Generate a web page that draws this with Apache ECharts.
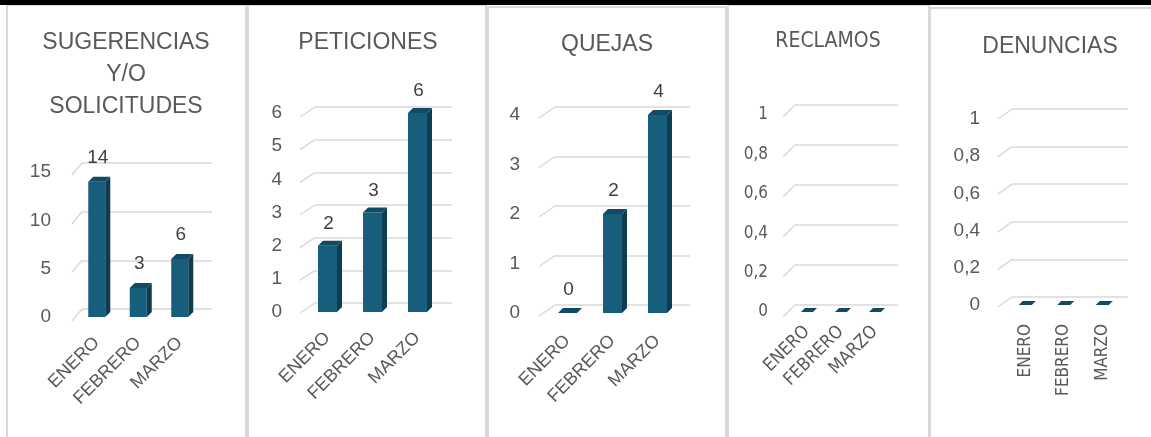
<!DOCTYPE html>
<html><head><meta charset="utf-8">
<script src="https://cdn.jsdelivr.net/npm/echarts@6/dist/echarts.min.js"></script>
<style>html,body{margin:0;padding:0;background:#fff}#c{width:1151px;height:437px}</style>
</head><body><div id="c"></div>
<script>
// ---- data ----
const months = ['ENERO', 'FEBRERO', 'MARZO'];
const sugerencias = [14, 3, 6];
const peticiones = [2, 3, 6];
const quejas = [0, 2, 4];
const reclamos = [0, 0, 0];
const denuncias = [0, 0, 0];
const titles = ['SUGERENCIAS\nY/O\nSOLICITUDES', 'PETICIONES', 'QUEJAS', 'RECLAMOS', 'DENUNCIAS'];
const ticksSug = [0, 5, 10, 15];
const ticksPet = [0, 1, 2, 3, 4, 5, 6];
const ticksQue = [0, 1, 2, 3, 4];
const ticksRec = [0, 0.2, 0.4, 0.6, 0.8, 1];
const ticksDen = [0, 0.2, 0.4, 0.6, 0.8, 1];

// ---- layout / style ----
const FRONT = '#175E7C', SIDE = '#0E3D51', TOPC = '#114A62';
const GRID = '#D9D9D9', TXT = '#595959';
const SANS = "'Liberation Sans', Arial, sans-serif";
const NARROW = "'Liberation Sans Narrow', 'DejaVu Sans Condensed', sans-serif";

const panels = [
  { data: sugerencias, ticks: ticksSug, title: titles[0], tx: 126, ty: 27, tFont: SANS, tSize: 23,
    front: { left: 76, top: 172, width: 124.5, height: 145 }, back: { left: 82, top: 163, width: 130, height: 146 },
    stub: [10, 12], barW: 17, depth: 5, labelOff: 24, showVal: true,
    yFont: SANS, ySize: 19, yMargin: 25, xFont: SANS, xSize: 18, xRot: 45, xMargin: 23 },
  { data: peticiones, ticks: ticksPet, title: titles[1], tx: 368, ty: 27, tFont: SANS, tSize: 23,
    front: { left: 305, top: 113, width: 135, height: 199 }, back: { left: 315, top: 107, width: 137, height: 196 },
    stub: [15, 10], barW: 19, depth: 5, labelOff: 22, showVal: true,
    yFont: SANS, ySize: 19, yMargin: 23, xFont: SANS, xSize: 18, xRot: 45, xMargin: 23 },
  { data: quejas, ticks: ticksQue, title: titles[2], tx: 607, ty: 29, tFont: SANS, tSize: 23,
    front: { left: 545, top: 115, width: 135, height: 198 }, back: { left: 555, top: 107, width: 135, height: 198 },
    stub: [16, 11], barW: 19, depth: 5, labelOff: 23, showVal: true,
    yFont: SANS, ySize: 19, yMargin: 25, xFont: SANS, xSize: 18, xRot: 45, xMargin: 25 },
  { data: reclamos, ticks: ticksRec, title: titles[3], tx: 828, ty: 26, tFont: NARROW, tSize: 21,
    front: { left: 790, top: 115, width: 102, height: 197 }, back: { left: 795, top: 105, width: 103, height: 200 },
    stub: [12, 12], barW: 12, depth: 4, labelOff: 20, showVal: false,
    yFont: NARROW, ySize: 17, yMargin: 22, xFont: NARROW, xSize: 18, xRot: 45, xMargin: 17 },
  { data: denuncias, ticks: ticksDen, title: titles[4], tx: 1050, ty: 31, tFont: SANS, tSize: 23,
    front: { left: 1006, top: 119, width: 115.5, height: 186 }, back: { left: 1012, top: 109, width: 116, height: 188 },
    stub: [14, 10], barW: 13, depth: 4, labelOff: 20, showVal: false,
    yFont: SANS, ySize: 19, yMargin: 26, xFont: NARROW, xSize: 17, xRot: 90, xMargin: 19 }
];

const frames = [
  { x: 7, y: 5, w: 239 }, { x: 248, y: 5, w: 238 }, { x: 488, y: 7, w: 238 },
  { x: 728, y: 5, w: 201 }, { x: 930, y: 8, w: 240 }
];

const fmt = v => String(+v.toFixed(2)).replace('.', ',');

function barRender(p) {
  return function (params, api) {
    const i = api.value(0), v = api.value(1);
    const t = api.coord([i, v]), b = api.coord([i, 0]);
    const w = p.barW, d = p.depth;
    const x0 = t[0] - w / 2, x1 = t[0] + w / 2, yt = t[1], yb = b[1];
    const ch = [
      { type: 'rect', shape: { x: x0, y: yt, width: w, height: Math.max(0, yb - yt) }, style: { fill: FRONT } },
      { type: 'polygon', shape: { points: [[x1, yt], [x1 + d, yt - d], [x1 + d, yb - d], [x1, yb]] }, style: { fill: SIDE } },
      { type: 'polygon', shape: { points: [[x0, yt], [x0 + d, yt - d], [x1 + d, yt - d], [x1, yt]] }, style: { fill: TOPC } }
    ];
    if (p.showVal) {
      ch.push({ type: 'text', style: { text: String(v), x: t[0] + 1, y: yt - p.labelOff, align: 'center', verticalAlign: 'middle',
        fontSize: 19, fontFamily: SANS, fill: '#404040' } });
    }
    return { type: 'group', children: ch };
  };
}
function stubRender(p) {
  return function (params, api) {
    const c = api.coord([0, api.value(1)]);
    const x = params.coordSys.x;
    return { type: 'line', shape: { x1: x - p.stub[0], y1: c[1] + p.stub[1], x2: x, y2: c[1] },
      style: { stroke: GRID, lineWidth: 1.5 } };
  };
}

const grid = [], xAxis = [], yAxis = [], series = [], title = [];
panels.forEach((p, k) => {
  const max = p.ticks[p.ticks.length - 1];
  const interval = p.ticks[1] - p.ticks[0];
  grid.push(Object.assign({}, p.front));
  grid.push(Object.assign({}, p.back));
  xAxis.push({ type: 'category', gridIndex: 2 * k, data: months, axisLine: { show: false }, axisTick: { show: false },
    axisLabel: { interval: 0, rotate: p.xRot, margin: p.xMargin, color: TXT, fontSize: p.xSize, fontFamily: p.xFont } });
  xAxis.push({ type: 'category', gridIndex: 2 * k + 1, data: months, show: false });
  yAxis.push({ type: 'value', gridIndex: 2 * k, min: 0, max: max, interval: interval, splitLine: { show: false },
    axisLine: { show: false }, axisTick: { show: false },
    axisLabel: { margin: p.yMargin, color: TXT, fontSize: p.ySize, fontFamily: p.yFont, formatter: fmt } });
  yAxis.push({ type: 'value', gridIndex: 2 * k + 1, min: 0, max: max, interval: interval,
    axisLine: { show: false }, axisTick: { show: false }, axisLabel: { show: false },
    splitLine: { show: true, lineStyle: { color: GRID, width: 1.5 } } });
  series.push({ type: 'custom', xAxisIndex: 2 * k + 1, yAxisIndex: 2 * k + 1, silent: true,
    data: p.ticks.map(v => [0, v]), renderItem: stubRender(p), z: 1 });
  series.push({ type: 'custom', xAxisIndex: 2 * k, yAxisIndex: 2 * k, silent: true,
    data: p.data.map((v, i) => [i, v]), renderItem: barRender(p), z: 3 });
  title.push({ text: p.title, left: p.tx, top: p.ty, textAlign: 'center', padding: 0,
    textStyle: { color: TXT, fontSize: p.tSize, fontWeight: 'normal', fontFamily: p.tFont, lineHeight: 32 } });
});

const graphic = [{ type: 'rect', shape: { x: 0, y: 0, width: 1151, height: 5 }, style: { fill: '#000' }, z: 10 }];
frames.forEach(f => graphic.push({ type: 'rect', shape: { x: f.x, y: f.y, width: f.w, height: 460 },
  style: { fill: 'none', stroke: GRID, lineWidth: 2 }, z: 5 }));

const chart = echarts.init(document.getElementById('c'), null, { renderer: 'canvas' });
chart.setOption({ animation: false, backgroundColor: '#fff', title, grid, xAxis, yAxis, series, graphic });
</script></body></html>
